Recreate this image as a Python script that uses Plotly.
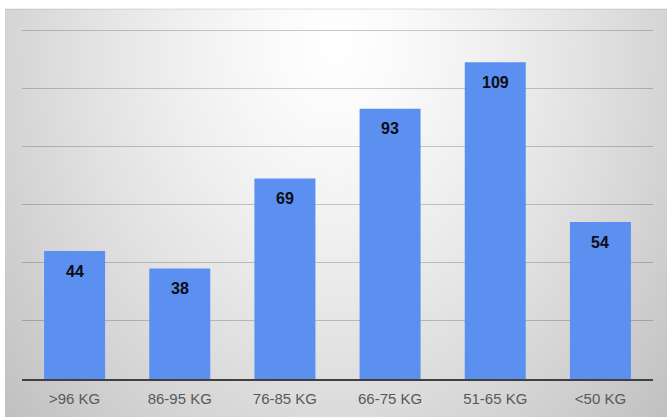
import base64
import struct
import zlib

import numpy as np
import plotly.graph_objects as go

# Weight classes and athlete counts
categories = [">96 KG", "86-95 KG", "76-85 KG", "66-75 KG", "51-65 KG", "<50 KG"]
counts = [44, 38, 69, 93, 109, 54]
y_ticks = [0, 20, 40, 60, 80, 100, 120]

W, H = 667, 417
# plot area in pixels
L, R, T, B = 22, 14, 29, 38
PW, PH = W - L - R, H - T - B
# gradient panel in pixels
PX0, PY0, PX1, PY1 = 5, 9, 667, 417


def radial_png(w, h):
    """Grey radial gradient, light in the upper middle and darker toward the edges."""
    xs = np.arange(w)[None, :]
    ys = np.arange(h)[:, None]
    cx, cy = w * 0.5, h * 0.08
    d = np.sqrt(((xs - cx) / (w * 0.5)) ** 2 + ((ys - cy) / (h * 1.02)) ** 2)
    v = 255 - 42 * d ** 1.35
    v = np.clip(v, 0, 255).astype(np.uint8)
    raw = b"".join(b"\x00" + row.tobytes() for row in v)

    def chunk(tag, data):
        c = struct.pack(">I", len(data)) + tag + data
        return c + struct.pack(">I", zlib.crc32(tag + data) & 0xFFFFFFFF)

    png = b"\x89PNG\r\n\x1a\n"
    png += chunk(b"IHDR", struct.pack(">IIBBBBB", w, h, 8, 0, 0, 0, 0))
    png += chunk(b"IDAT", zlib.compress(raw, 9))
    png += chunk(b"IEND", b"")
    return "data:image/png;base64," + base64.b64encode(png).decode()


bg = radial_png(PX1 - PX0, PY1 - PY0)

fig = go.Figure(
    go.Bar(
        x=categories,
        y=counts,
        marker=dict(color="#5b8ff0", line=dict(width=0)),
        hoverinfo="skip",
    )
)

# value labels just inside the top of each bar
for c, v in zip(categories, counts):
    fig.add_annotation(
        x=c, y=v, text="<b>%d</b>" % v, showarrow=False,
        yanchor="middle", yshift=-20,
        font=dict(family="Liberation Sans, Arial, sans-serif", size=16, color="#0d0d14"),
        xref="x", yref="y",
    )

fig.add_layout_image(
    source=bg,
    xref="paper", yref="paper",
    x=(PX0 - L) / PW, y=(H - B - PY0) / PH,
    sizex=(PX1 - PX0) / PW, sizey=(PY1 - PY0) / PH,
    xanchor="left", yanchor="top",
    sizing="stretch", layer="below",
)

# faint top edge of the panel
fig.add_shape(
    type="line", xref="paper", yref="paper",
    x0=(PX0 - L) / PW, x1=(PX1 - L) / PW,
    y0=(H - B - PY0) / PH, y1=(H - B - PY0) / PH,
    line=dict(color="rgba(0,0,0,0.12)", width=1), layer="below",
)

fig.update_layout(
    width=W, height=H,
    margin=dict(l=L, r=R, t=T, b=B, autoexpand=False),
    paper_bgcolor="white",
    plot_bgcolor="rgba(0,0,0,0)",
    bargap=0.42,
    showlegend=False,
    xaxis=dict(
        showgrid=False, showline=True, linecolor="#404040", linewidth=2,
        ticks="", ticklabelstandoff=5, automargin=False,
        tickfont=dict(family="Liberation Sans, Arial, sans-serif", size=15, color="#595959"),
        fixedrange=True,
    ),
    yaxis=dict(
        range=[0, 120.4], tickvals=y_ticks, showticklabels=False,
        showgrid=True, gridcolor="rgba(0,0,0,0.2)", gridwidth=1,
        zeroline=False, showline=False, ticks="", automargin=False,
        fixedrange=True,
    ),
)

fig.write_html("out.html", config={"displayModeBar": False})
